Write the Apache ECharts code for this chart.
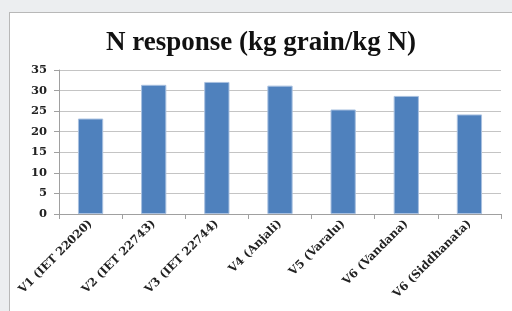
<!DOCTYPE html>
<html>
<head>
<meta charset="utf-8">
<script src="https://cdn.jsdelivr.net/npm/echarts@6/dist/echarts.min.js"></script>
<style>
  html, body { margin: 0; padding: 0; background: #eceef0; }
  #chart {
    position: absolute; left: 9px; top: 12px;
    width: 503px; height: 299px;
    background: #ffffff;
    border-left: 1px solid #b8b8b8; border-top: 1px solid #b8b8b8;
    box-sizing: border-box;
  }
</style>
</head>
<body>
<div id="chart"></div>
<script>
  // data
  var varieties = ['V1 (IET 22020)', 'V2 (IET 22743)', 'V3 (IET 22744)', 'V4 (Anjali)',
                   'V5 (Varalu)', 'V6 (Vandana)', 'V6 (Siddhanata)'];
  var nResponse = [23.2, 31.4, 32.1, 31.2, 25.4, 28.7, 24.2];
  var yTicks = [0, 5, 10, 15, 20, 25, 30, 35];

  var serif = '"Liberation Serif", "DejaVu Serif", serif';
  var wideSerif = '"DejaVu Serif", serif';
  var myChart = echarts.init(document.getElementById('chart'));
  myChart.setOption({
    animation: false,
    title: {
      text: 'N response (kg grain/kg N)',
      left: 'center',
      top: 12,
      textStyle: { fontFamily: serif, fontWeight: 'bold', fontSize: 27, color: '#111' }
    },
    grid: { left: 49, right: 11, top: 57, bottom: 97, containLabel: false },
    xAxis: {
      type: 'category',
      data: varieties,
      axisLine: { lineStyle: { color: '#a0a0a0' } },
      axisTick: { show: true, length: 5, lineStyle: { color: '#a0a0a0' } },
      axisLabel: {
        rotate: 45, interval: 0, margin: 8,
        fontFamily: wideSerif, fontWeight: 'bold', fontSize: 11.5, color: '#222'
      }
    },
    yAxis: {
      type: 'value',
      min: yTicks[0], max: yTicks[yTicks.length - 1], interval: 5,
      axisLine: { show: true, lineStyle: { color: '#a0a0a0' } },
      axisTick: { show: true, length: 5, lineStyle: { color: '#a0a0a0' } },
      splitLine: { lineStyle: { color: '#c4c4c4' } },
      axisLabel: { fontFamily: wideSerif, fontWeight: 'bold', fontSize: 11.5, color: '#222', margin: 12 }
    },
    series: [{
      type: 'bar',
      data: nResponse,
      barWidth: '40%',
      itemStyle: { color: '#4f81bd', borderColor: '#a8c0e0', borderWidth: 1 }
    }]
  });
</script>
</body>
</html>
